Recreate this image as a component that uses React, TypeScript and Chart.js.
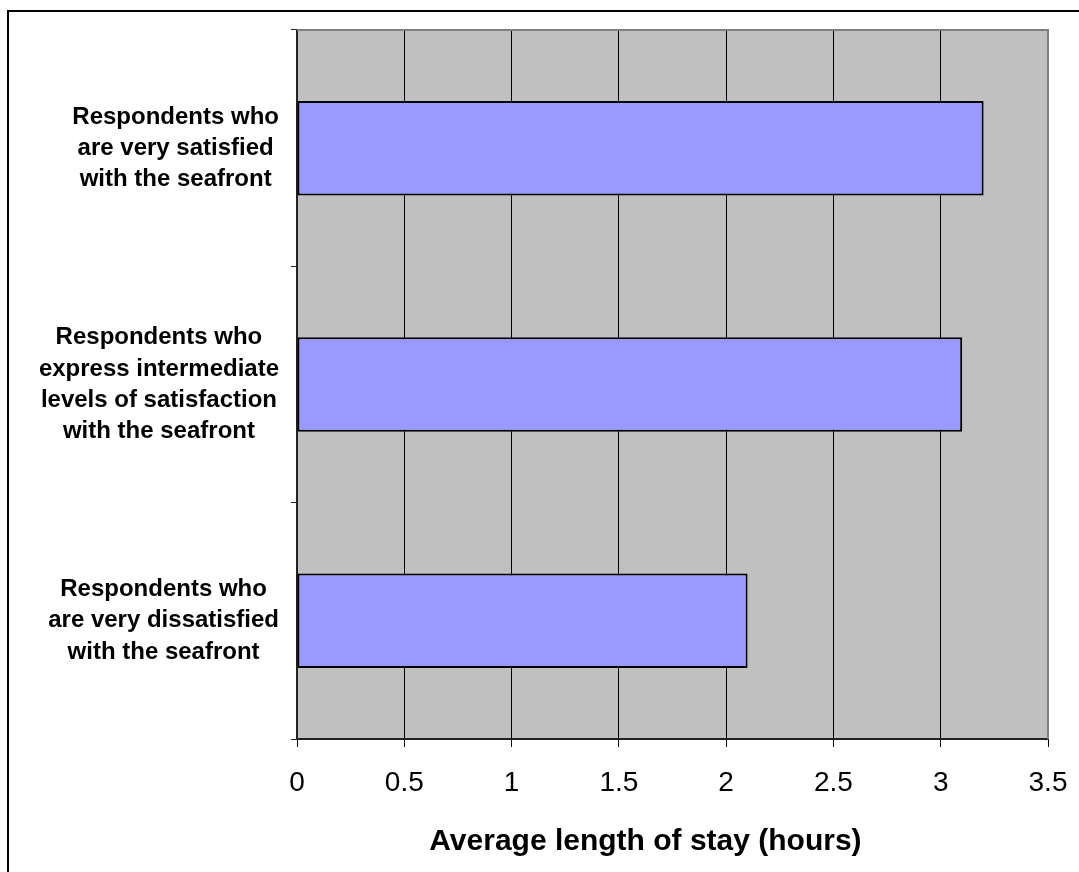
import React, { useEffect, useRef } from "react";
import { Chart, registerables } from "chart.js";

Chart.register(...registerables);

const categories: string[][] = [
  ["Respondents who", "are very satisfied", "with the seafront"],
  ["Respondents who", "express intermediate", "levels of satisfaction", "with the seafront"],
  ["Respondents who", "are very dissatisfied", "with the seafront"],
];
const hours: number[] = [3.2, 3.1, 2.1];
const xMin = 0;
const xMax = 3.5;
const xStep = 0.5;
const xTitle = "Average length of stay (hours)";

const FONT = "'Liberation Sans', Arial, Helvetica, sans-serif";

// Draws each category label as a block of centred lines, the block right-aligned near the axis
const labelPlugin = {
  id: "blockLabels",
  afterDraw(chart: any) {
    const { ctx } = chart;
    const yScale = chart.scales.y;
    const xScale = chart.scales.x;
    const labels: string[][] = chart.data.labels;
    ctx.save();
    ctx.fillStyle = "#000000";
    ctx.font = `bold 24px ${FONT}`;
    ctx.textAlign = "center";
    ctx.textBaseline = "middle";
    const lineH = 31.2;
    const rightEdge = yScale.right - 18;
    labels.forEach((lines, i) => {
      const yc = yScale.getPixelForTick(i);
      const widest = Math.max(...lines.map((l) => ctx.measureText(l).width));
      const xc = rightEdge - widest / 2;
      const y0 = yc - ((lines.length - 1) * lineH) / 2;
      lines.forEach((l, k) => ctx.fillText(l, xc, y0 + k * lineH));
    });
    // axis title
    ctx.font = `bold 30px ${FONT}`;
    ctx.textBaseline = "alphabetic";
    ctx.fillText(xTitle, xScale.left + (xScale.right - xScale.left) * 0.464, 850);
    ctx.restore();
  },
};

const framePlugin = {
  id: "frame",
  beforeDraw(chart: any) {
    const { ctx, chartArea } = chart;
    const { left, top, right, bottom } = chartArea;
    ctx.save();
    ctx.fillStyle = "#ffffff";
    ctx.fillRect(0, 0, chart.width, chart.height);
    ctx.fillStyle = "#C0C0C0";
    ctx.fillRect(left, top, right - left, bottom - top);
    ctx.strokeStyle = "#000000";
    ctx.lineWidth = 2;
    ctx.strokeRect(8, 11, chart.width + 40, chart.height + 40);
    ctx.restore();
  },
  afterDraw(chart: any) {
    const { ctx, chartArea } = chart;
    const { left, top, right, bottom } = chartArea;
    ctx.save();
    ctx.strokeStyle = "#808080";
    ctx.lineWidth = 2;
    ctx.beginPath();
    ctx.moveTo(left, top);
    ctx.lineTo(right, top);
    ctx.lineTo(right, bottom);
    ctx.stroke();
    ctx.restore();
  },
};

export default function App() {
  const canvasRef = useRef<HTMLCanvasElement | null>(null);

  useEffect(() => {
    const canvas = canvasRef.current;
    if (!canvas) return;
    const chart = new Chart(canvas, {
      type: "bar",
      data: {
        labels: categories as any,
        datasets: [
          {
            data: hours,
            backgroundColor: "#9999FF",
            borderColor: "#000000",
            borderWidth: 2,
            borderSkipped: false,
            categoryPercentage: 1,
            barPercentage: 0.4,
          },
        ],
      },
      options: {
        indexAxis: "y",
        responsive: false,
        animation: false,
        layout: { padding: { top: 30, right: 31, left: 0, bottom: 0 } },
        plugins: {
          legend: { display: false },
          tooltip: { enabled: false },
        },
        scales: {
          y: {
            type: "category",
            position: "left",
            grid: {
              offset: true,
              drawOnChartArea: false,
              drawTicks: true,
              tickLength: 6,
              color: "#222222",
              lineWidth: 1,
            },
            border: { color: "#222222", width: 2 },
            ticks: { display: false },
            afterFit(scale: any) {
              scale.width = 297;
              scale.paddingTop = 0;
              scale.paddingBottom = 0;
            },
          },
          x: {
            type: "linear",
            min: xMin,
            max: xMax,
            grid: {
              color: "#000000",
              lineWidth: 1,
              tickLength: 8,
            },
            border: { color: "#222222", width: 2 },
            ticks: {
              stepSize: xStep,
              color: "#000000",
              padding: 19,
              font: { family: FONT, size: 28 },
              callback: (v: any) => String(Number(v)),
            },
            title: { display: false },
            afterFit(scale: any) {
              scale.height = 133;
              scale.paddingLeft = 0;
              scale.paddingRight = 0;
            },
          },
        },
      } as any,
      plugins: [framePlugin, labelPlugin],
    });
    return () => chart.destroy();
  }, []);

  return (
    <div style={{ position: "absolute", left: 0, top: 0, width: 1079, height: 872 }}>
      <canvas ref={canvasRef} width={1079} height={872} style={{ display: "block" }} />
    </div>
  );
}
